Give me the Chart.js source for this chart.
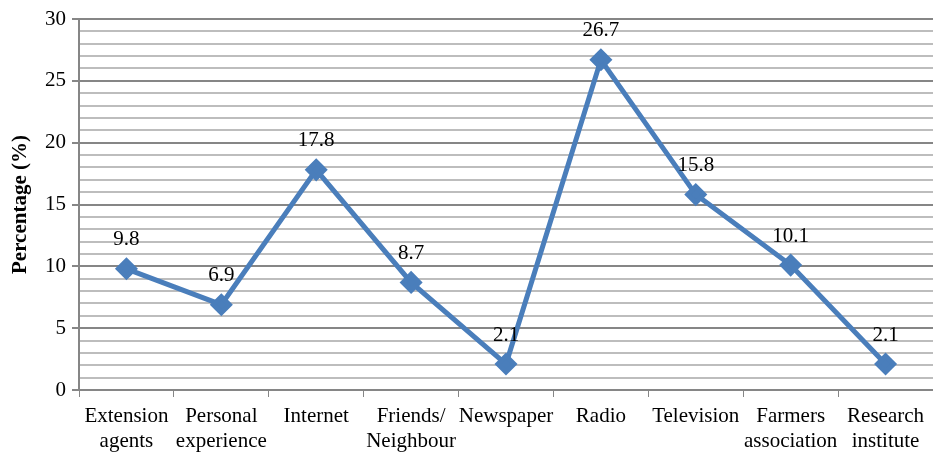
<!DOCTYPE html>
<html>
<head>
<meta charset="utf-8">
<script src="https://cdn.jsdelivr.net/npm/chart.js@4/dist/chart.umd.min.js"></script>
<style>
  html, body { margin: 0; padding: 0; background: #fff; }
  #wrap { width: 933px; height: 452px; }
</style>
</head>
<body>
<div id="wrap"><canvas id="chart"></canvas></div>
<script>
const categories = [
  ['Extension', 'agents'],
  ['Personal', 'experience'],
  'Internet',
  ['Friends/', 'Neighbour'],
  'Newspaper',
  'Radio',
  'Television',
  ['Farmers', 'association'],
  ['Research', 'institute']
];
const percentages = [9.8, 6.9, 17.8, 8.7, 2.1, 26.7, 15.8, 10.1, 2.1];
const yLabels = [0, 5, 10, 15, 20, 25, 30];

const serif = "'Liberation Serif', 'Times New Roman', serif";
const blue = '#4a7ebb';

// writes each value above its marker
const valueLabels = {
  id: 'valueLabels',
  afterDatasetsDraw(chart) {
    const ctx = chart.ctx;
    const meta = chart.getDatasetMeta(0);
    ctx.save();
    ctx.font = '21px ' + serif;
    ctx.fillStyle = '#000';
    ctx.textAlign = 'center';
    ctx.textBaseline = 'middle';
    meta.data.forEach((pt, i) => {
      ctx.fillText(percentages[i].toFixed(1), pt.x, pt.y - 29);
    });
    ctx.restore();
  }
};

new Chart(document.getElementById('chart'), {
  type: 'line',
  data: {
    labels: categories,
    datasets: [{
      data: percentages,
      borderColor: blue,
      backgroundColor: blue,
      borderWidth: 5,
      pointStyle: 'rectRot',
      pointRadius: 8,
      pointHoverRadius: 8,
      tension: 0
    }]
  },
  options: {
    responsive: true,
    maintainAspectRatio: false,
    animation: false,
    layout: { autoPadding: false, padding: { top: 19, right: 0, bottom: 0, left: 0 } },
    plugins: { legend: { display: false }, tooltip: { enabled: false } },
    scales: {
      x: {
        offset: true,
        afterFit(scale) { scale.height = 62; },
        grid: {
          offset: true,
          drawOnChartArea: false,
          tickLength: 7,
          color: '#868686'
        },
        border: { color: '#868686', width: 2 },
        ticks: {
          color: '#000',
          font: { family: serif, size: 21, lineHeight: 1.2 },
          maxRotation: 0,
          autoSkip: false,
          padding: 7
        }
      },
      y: {
        min: 0,
        max: 30,
        afterFit(scale) { scale.width = 79; },
        afterBuildTicks(scale) {
          const ticks = [];
          for (let v = 0; v <= 30; v++) ticks.push({ value: v });
          scale.ticks = ticks;
        },
        grid: {
          color: c => c.tick.value % 5 === 0 ? '#868686' : '#bdbdbd',
          lineWidth: 2,
          tickColor: c => c.tick.value % 5 === 0 ? '#868686' : 'rgba(0,0,0,0)',
          tickLength: 7
        },
        border: { color: '#868686', width: 2 },
        ticks: {
          color: '#000',
          autoSkip: false,
          font: { family: serif, size: 21 },
          padding: 6,
          callback: v => yLabels.includes(v) ? String(v) : ''
        },
        title: {
          display: true,
          text: 'Percentage (%)',
          color: '#000',
          font: { family: serif, size: 21, weight: 'bold' },
          padding: { top: 8, bottom: 0 }
        }
      }
    }
  },
  plugins: [valueLabels]
});
</script>
</body>
</html>
